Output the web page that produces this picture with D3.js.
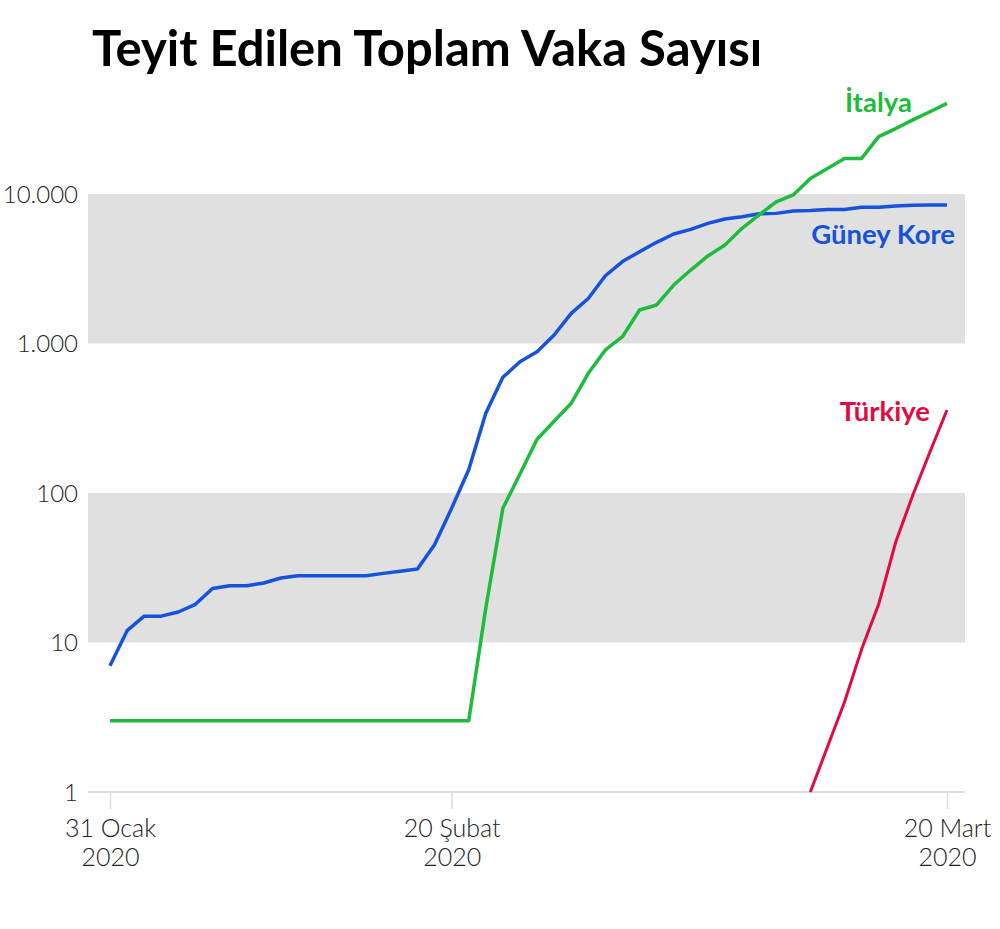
<!DOCTYPE html>
<html>
<head>
<meta charset="utf-8">
<script src="https://cdn.jsdelivr.net/npm/d3@7"></script>
<style>
  body { margin: 0; background: #fff; }
  svg { display: block; }
</style>
</head>
<body>
<svg id="chart" width="1000" height="929"></svg>
<script>
// gunluk toplam vaka, 31 Ocak - 20 Mart 2020
var startDate = new Date(2020, 0, 31);
var endDate = new Date(2020, 2, 20);

var korea = [7, 12, 15, 15, 16, 18, 23, 24, 24, 25,
  27, 28, 28, 28, 28, 28, 29, 30, 31, 45,
  79, 143, 341, 594, 755, 881, 1140, 1590, 2000, 2840,
  3530, 4110, 4750, 5400, 5800, 6360, 6800, 7050, 7380, 7420,
  7700, 7750, 7870, 7880, 8150, 8160, 8300, 8420, 8430, 8430];

var italy = [3, 3, 3, 3, 3, 3, 3, 3, 3, 3,
  3, 3, 3, 3, 3, 3, 3, 3, 3, 3,
  3, 3, 17, 79, 134, 229, 302, 398, 632, 905,
  1110, 1675, 1810, 2460, 3100, 3850, 4560, 5890, 7240, 8870,
  9850, 12700, 14800, 17300, 17300, 24200, 27400, 31300, 35500, 40400];

var turkey = [null, null, null, null, null, null, null, null, null, null,
  null, null, null, null, null, null, null, null, null, null,
  null, null, null, null, null, null, null, null, null, null,
  null, null, null, null, null, null, null, null, null, null,
  null, 1, 2, 4, 9, 18, 47, 97, 188, 359];

var yTicks = [1, 10, 100, 1000, 10000];
var bands = [[10, 100], [1000, 10000]];
var xTicks = [new Date(2020, 0, 31), new Date(2020, 1, 20), new Date(2020, 2, 20)];
var xTickLabels = [["31 Ocak", "2020"], ["20 Şubat", "2020"], ["20 Mart", "2020"]];

var series = [
  {name: "Güney Kore", values: korea, color: "#1553df", width: 3.5, lx: 955, ly: 244},
  {name: "İtalya", values: italy, color: "#1ebc3c", width: 3.5, lx: 912, ly: 112},
  {name: "Türkiye", values: turkey, color: "#e20a3e", width: 3, lx: 930, ly: 421}
];

var svg = d3.select("#chart");
var plotLeft = 88, plotRight = 965;

var x = d3.scaleTime()
  .domain([startDate, endDate])
  .range([110, 947]);

var y = d3.scaleLog()
  .domain([1, 10000])
  .range([792, 194]);

var locale = d3.formatLocale({decimal: ",", thousands: ".", grouping: [3], currency: ["", ""]});
var fmt = locale.format(",d");

var days = d3.timeDays(startDate, d3.timeDay.offset(endDate, 1));

// gri bantlar
svg.append("g").selectAll("rect")
  .data(bands)
  .enter().append("rect")
  .attr("x", plotLeft)
  .attr("width", plotRight - plotLeft)
  .attr("y", function(d) { return y(d[1]); })
  .attr("height", function(d) { return y(d[0]) - y(d[1]); })
  .attr("fill", "#e0e0e0");

// x ekseni
var xAxis = svg.append("g")
  .attr("transform", "translate(0," + y(1) + ")")
  .call(d3.axisBottom(x).tickValues(xTicks).tickSize(17).tickFormat(""));
xAxis.select(".domain").remove();
xAxis.selectAll(".tick line").attr("stroke", "#dcdcdc").attr("stroke-width", 1.5);
xAxis.insert("line", ":first-child")
  .attr("x1", plotLeft).attr("x2", plotRight)
  .attr("stroke", "#dcdcdc").attr("stroke-width", 2);

xAxis.selectAll(".tick").each(function(d, i) {
  var t = d3.select(this).append("text")
    .attr("fill", "#222")
    .attr("font-family", "Lato, 'Noto Sans', sans-serif")
    .attr("font-weight", 300)
    .attr("font-size", 25)
    .attr("text-anchor", "middle");
  t.append("tspan").attr("x", 0).attr("y", 45).text(xTickLabels[i][0]);
  t.append("tspan").attr("x", 0).attr("y", 74).text(xTickLabels[i][1]);
});

// y etiketleri
var yAxis = svg.append("g")
  .attr("transform", "translate(78,0)")
  .call(d3.axisLeft(y).tickValues(yTicks).tickSize(0).tickPadding(0).tickFormat(fmt));
yAxis.select(".domain").remove();
yAxis.selectAll("text")
  .attr("fill", "#222")
  .attr("font-family", "Lato, 'Noto Sans', sans-serif")
  .attr("font-weight", 300)
  .attr("font-size", 24)
  .attr("dy", "0.35em");

var line = d3.line()
  .defined(function(d) { return d.v != null; })
  .x(function(d) { return x(d.date); })
  .y(function(d) { return y(d.v); });

series.forEach(function(s) {
  var pts = days.map(function(dt, i) { return {date: dt, v: s.values[i]}; });
  svg.append("path")
    .datum(pts)
    .attr("fill", "none")
    .attr("stroke", s.color)
    .attr("stroke-width", s.width)
    .attr("stroke-linejoin", "round")
    .attr("d", line);

  svg.append("text")
    .attr("x", s.lx)
    .attr("y", s.ly)
    .attr("text-anchor", "end")
    .attr("fill", s.color)
    .attr("font-family", "Lato, 'Noto Sans', sans-serif")
    .attr("font-weight", 700)
    .attr("font-size", 27.5)
    .text(s.name);
});

svg.append("text")
  .attr("x", 92)
  .attr("y", 66)
  .attr("fill", "#000")
  .attr("font-family", "Lato, 'Noto Sans', sans-serif")
  .attr("font-weight", 700)
  .attr("font-size", 49)
  .text("Teyit Edilen Toplam Vaka Sayısı");
</script>
</body>
</html>
